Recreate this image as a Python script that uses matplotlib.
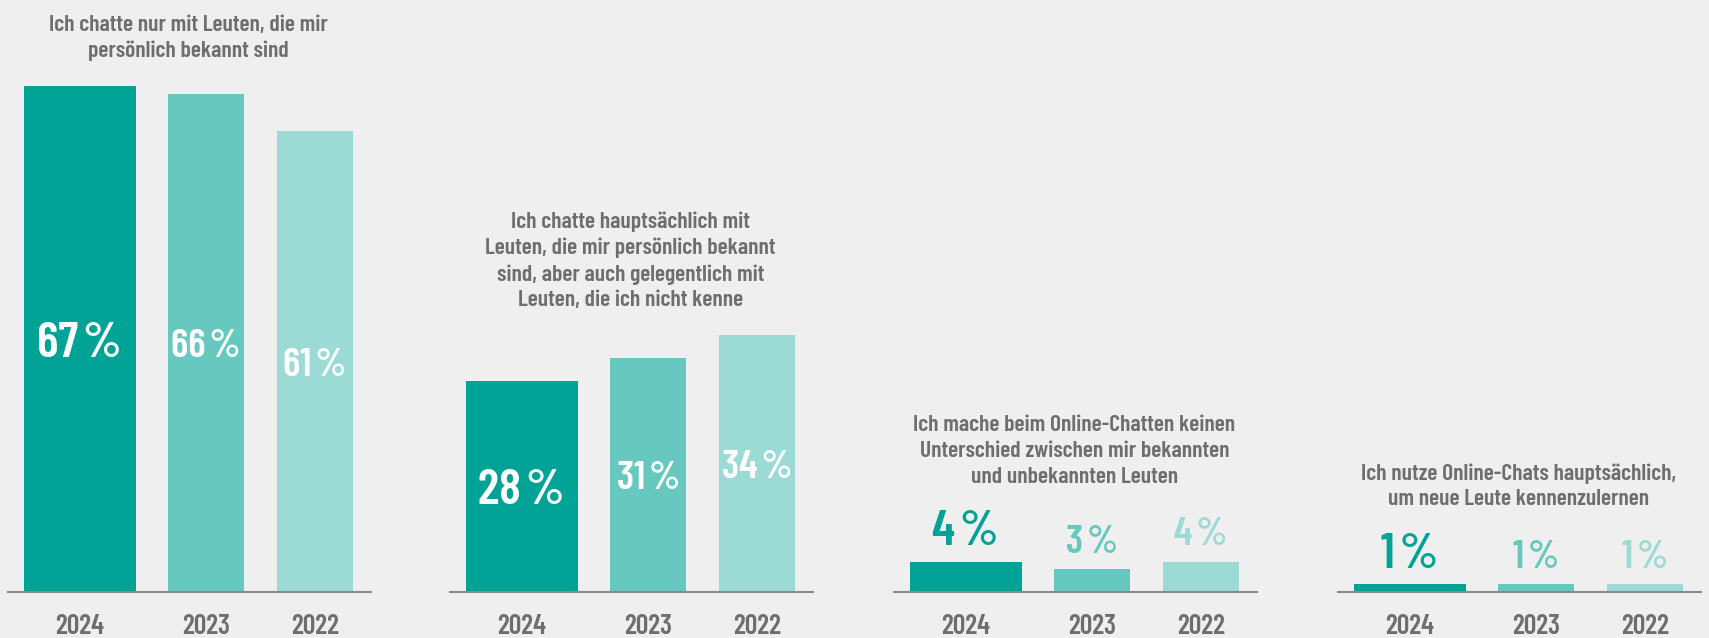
import matplotlib
matplotlib.use("Agg")
import matplotlib.pyplot as plt

plt.rcParams['font.family'] = ['Barlow Condensed', 'DejaVu Sans']

# data
years = ['2024', '2023', '2022']
titles = [
    "Ich chatte nur mit Leuten, die mir\npersönlich bekannt sind",
    "Ich chatte hauptsächlich mit\nLeuten, die mir persönlich bekannt\nsind, aber auch gelegentlich mit\nLeuten, die ich nicht kenne",
    "Ich mache beim Online-Chatten keinen\nUnterschied zwischen mir bekannten\nund unbekannten Leuten",
    "Ich nutze Online-Chats hauptsächlich,\num neue Leute kennenzulernen",
]
only_known = [67, 66, 61]
mostly_known = [28, 31, 34]
no_difference = [4, 3, 4]
meet_new = [1, 1, 1]
panels = [only_known, mostly_known, no_difference, meet_new]

colors = ['#00a395', '#66c8be', '#9cdad5']
bg = '#efefef'
grey = '#6e6e6e'

# layout (figure pixels)
W, H = 1709, 638
panel_left = [8, 450, 894, 1338]
panel_w = 363
base_y = 592
px_per_pct = 7.55
ymax = 70

widths = [1.0, 0.68, 0.68]
gap = 0.29
lefts = [0, widths[0] + gap, widths[0] + widths[1] + 2 * gap]
centers = [l + w / 2 for l, w in zip(lefts, widths)]

fig = plt.figure(figsize=(W / 100, H / 100), dpi=100, facecolor=bg)

for i, vals in enumerate(panels):
    ax = fig.add_axes([panel_left[i] / W, (H - base_y) / H,
                       panel_w / W, ymax * px_per_pct / H])
    ax.set_facecolor(bg)
    ax.bar(centers, vals, width=widths, color=colors, zorder=2)
    ax.set_xlim(-0.14, -0.14 + panel_w / 112)
    ax.set_ylim(0, ymax)
    for s in ['top', 'right', 'left']:
        ax.spines[s].set_visible(False)
    ax.spines['bottom'].set_color('#8a8a8a')
    ax.spines['bottom'].set_linewidth(1.5)
    ax.set_yticks([])
    ax.set_xticks(centers)
    ax.set_xticklabels(years, fontsize=20, fontweight='semibold', color=grey)
    ax.tick_params(axis='x', length=0, pad=16)

    inside = max(vals) > 10
    for j, v in enumerate(vals):
        size = 36 if j == 0 else 29
        label = f"{v}\u200a%"
        if inside:
            # centre the digits in the bar
            ax.annotate(label, (centers[j], v / 2), xytext=(0, -0.35 * size),
                        textcoords='offset points', ha='center', va='baseline',
                        fontsize=size, fontweight='semibold', color='white')
        else:
            ax.annotate(label, (centers[j], v), xytext=(0, 12),
                        textcoords='offset points', ha='center', va='baseline',
                        fontsize=size, fontweight='semibold', color=colors[j])

    title_off = 21 if inside else 57
    ax.annotate(titles[i], ((lefts[0] + lefts[2] + widths[2]) / 2, max(vals)),
                xytext=(0, title_off), textcoords='offset points',
                ha='center', va='baseline', fontsize=17, fontweight='semibold',
                color=grey, linespacing=1.35, annotation_clip=False)

fig.savefig('out.png', dpi=100, facecolor=bg)
